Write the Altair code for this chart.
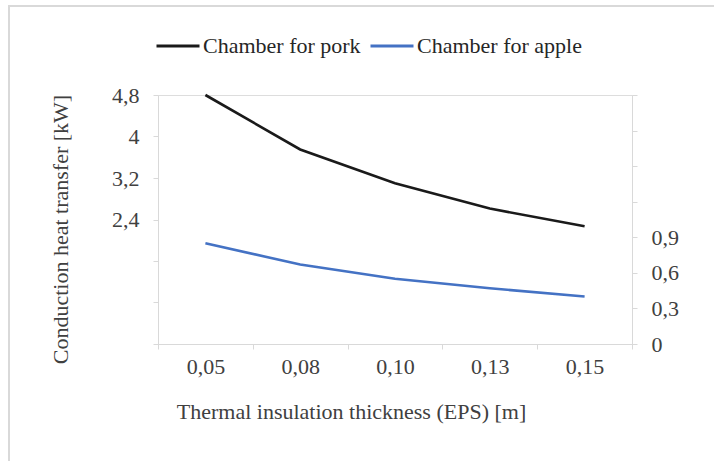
import altair as alt
import pandas as pd

thickness = ["0,05", "0,08", "0,10", "0,13", "0,15"]
pork = [4.80, 3.75, 3.10, 2.61, 2.27]
apple = [0.85, 0.67, 0.55, 0.47, 0.40]
series_names = ["Chamber for pork", "Chamber for apple"]
left_ticks = [0, 0.8, 1.6, 2.4, 3.2, 4, 4.8]
right_ticks = [0, 0.3, 0.6, 0.9, 1.2, 1.5, 1.8, 2.1]

rows = []
for t, v in zip(thickness, pork):
    rows.append({"t": t, "v": v, "s": series_names[0]})
for t, v in zip(thickness, apple):
    rows.append({"t": t, "v": v, "s": series_names[1]})
df = pd.DataFrame(rows)

FONT = "Liberation Serif, DejaVu Serif"
FS = 22
AX = "#d9d9d9"
TXT = "#404040"

color = alt.Color(
    "s:N",
    scale=alt.Scale(domain=series_names, range=["#1a1a1a", "#4472c4"]),
    legend=alt.Legend(
        title=None, orient="none", direction="horizontal",
        legendX=-3, legendY=-72,
        symbolType="stroke", symbolSize=1849, symbolStrokeWidth=3,
        labelFont=FONT, labelFontSize=FS, labelColor="#262626",
        labelOffset=2, columnPadding=3, labelLimit=400,
    ),
)

x = alt.X(
    "t:N", sort=thickness, bandPosition=0.5,
    scale=alt.Scale(type="band", paddingInner=0, paddingOuter=0),
    axis=alt.Axis(
        title="Thermal insulation thickness (EPS) [m]", labelAngle=0,
        tickBand="extent", domainColor=AX, tickColor=AX, tickSize=5,
        labelFont=FONT, labelFontSize=FS, labelColor=TXT, labelPadding=7,
        titleFont=FONT, titleFontSize=FS, titleColor=TXT, titleFontWeight="normal",
        titleX=193, titleY=67, titleBaseline="middle", titleAnchor="middle",
        grid=False,
    ),
)

base = alt.Chart(df)

pork_line = base.transform_filter(alt.datum.s == series_names[0]).mark_line(
    strokeWidth=2.6, interpolate="linear"
).encode(
    x=x,
    y=alt.Y(
        "v:Q",
        scale=alt.Scale(domain=[0, 4.8], nice=False, zero=True),
        axis=alt.Axis(
            orient="left", values=left_ticks,
            labelExpr="datum.value >= 2.3 ? replace(toString(datum.value), '.', ',') : ''",
            title="Conduction heat transfer [kW]",
            domainColor=AX, tickColor=AX, tickSize=5, grid=False,
            labelFont=FONT, labelFontSize=FS, labelColor=TXT, labelPadding=14,
            titleFont=FONT, titleFontSize=FS, titleColor=TXT, titleFontWeight="normal",
            titleX=-98, titleY=134, titleBaseline="middle", titleAnchor="middle",
        ),
    ),
    color=color,
)

apple_line = base.transform_filter(alt.datum.s == series_names[1]).mark_line(
    strokeWidth=2.6, interpolate="linear"
).encode(
    x=x,
    y=alt.Y(
        "v:Q",
        scale=alt.Scale(domain=[0, 2.1], nice=False, zero=True),
        axis=alt.Axis(
            orient="right", values=right_ticks,
            labelExpr="datum.value <= 0.95 ? replace(toString(datum.value), '.', ',') : ''",
            title=None,
            domainColor=AX, tickColor=AX, tickSize=5, grid=False,
            labelFont=FONT, labelFontSize=FS, labelColor=TXT, labelPadding=14,
        ),
    ),
    color=color,
)

frame = alt.Chart(pd.DataFrame({"a": [0]})).mark_rect(
    fill=None, stroke="#d9d9d9", strokeWidth=2
).encode(
    x=alt.value(-149), x2=alt.value(600), y=alt.value(-89), y2=alt.value(400)
)

chart = alt.layer(frame, pork_line, apple_line).resolve_scale(
    y="independent"
).properties(
    width=474, height=249, autosize="none",
    padding={"left": 158, "top": 95, "right": 82, "bottom": 117},
).configure_view(stroke=None).configure(background="white", font=FONT)

chart.save("out.html", embed_options={"renderer": "svg", "actions": False})
